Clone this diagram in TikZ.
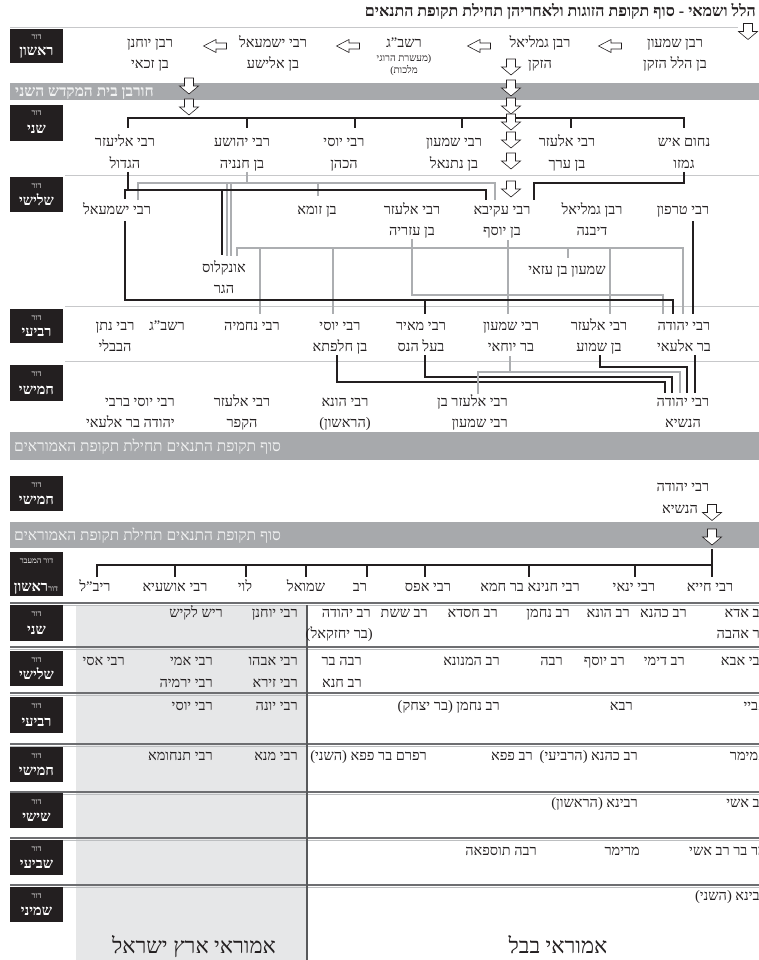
\documentclass[tikz,border=0pt]{standalone}
\usepackage{fontspec}
\setmainfont{Liberation Serif}
\newfontfamily\hebfont[Script=Hebrew]{Liberation Serif}
\TeXXeTstate=1
\definecolor{ink}{HTML}{231F20}
\definecolor{barg}{HTML}{A7A9AC}
\definecolor{linkg}{HTML}{ACAEB1}
\definecolor{sepg}{HTML}{C7C8CA}
\definecolor{fillg}{HTML}{E6E7E8}
\definecolor{dbl}{HTML}{6D6E71}
\definecolor{dbl2}{HTML}{BCBEC0}
\definecolor{vline}{HTML}{58595B}
\definecolor{bartext}{HTML}{F1F2F2}
\tikzset{
  nm/.style={anchor=base, inner sep=0pt, text=ink, font=\hebfont\fontsize{14.5}{17}\selectfont},
  nmr/.style={nm, anchor=base east},
  sm/.style={anchor=base, inner sep=0pt, text=ink, font=\hebfont\fontsize{10}{12}\selectfont},
  big/.style={anchor=base, inner sep=0pt, text=ink, font=\hebfont\fontsize{22}{26}\selectfont},
  ttl/.style={anchor=base east, inner sep=0pt, text=ink, font=\hebfont\bfseries\fontsize{16}{18}\selectfont},
  bartxt/.style={anchor=base west, inner sep=0pt, text=bartext, font=\hebfont\fontsize{15.5}{17}\selectfont},
  boxsm/.style={anchor=base, inner sep=0pt, text=white, font=\hebfont\fontsize{8}{9}\selectfont},
  boxbig/.style={anchor=base, inner sep=0pt, text=white, font=\hebfont\bfseries\fontsize{14.5}{16}\selectfont},
  bl/.style={draw=ink, line width=1.1pt},
  gl/.style={draw=linkg, line width=1.1pt},
  sepline/.style={draw=sepg, line width=0.7pt},
  arr/.style={draw=ink, fill=white, line width=0.6pt, line join=miter},
  darr/.pic={\draw[arr] (-4.5,-8) -- (4.5,-8) -- (4.5,0) -- (9.5,0) -- (0,8) -- (-9.5,0) -- (-4.5,0) -- cycle;},
  larr/.pic={\draw[arr] (-11.5,0) -- (1,-6.5) -- (1,-3) -- (11.5,-3) -- (11.5,3) -- (1,3) -- (1,6.5) -- cycle;},
}
\newcommand\nmtwo[5]{\node[nm] (#1) at (#2,#3) {#4};\node[nm] (#1b) at (#2,#3+21) {#5};}
\newcommand\cell[4]{\node[nmr] (#1) at (#2,#3) {#4};}
\newcommand\genbox[4]{\fill[ink] (10,#2) rectangle (63,#3);
  \node[boxsm] (#1s) at (36.5,#2+11) {דור};
  \node[boxbig] (#1) at (36.5,#3-7) {#4};}
\newcommand\dblline[1]{\draw[dbl, line width=1.4pt] (10,#1) -- (759,#1);
  \draw[dbl2, line width=0.8pt] (10,#1+2.8) -- (759,#1+2.8);}
\begin{document}
\begin{tikzpicture}[x=1pt,y=-1pt]
\useasboundingbox (0,0) rectangle (759,960);
\clip (0,0) rectangle (759,960);
\fill[white] (0,0) rectangle (759,960);

% ---------- bars and separators ----------
\fill[barg] (10,83) rectangle (759,100);
\fill[barg] (10,432) rectangle (759,460);
\fill[barg] (10,522) rectangle (759,548);
\draw[sepline] (10,27) -- (738,27);
\draw[sepline] (65,175) -- (759,175);
\draw[sepline] (65,306) -- (759,306);
\draw[sepline] (65,361) -- (759,361);

% ---------- lower table ----------
\fill[fillg] (76,605) rectangle (307,960);
\dblline{603}
\dblline{647}
\dblline{693}
\dblline{744}
\dblline{792}
\dblline{838}
\dblline{885}
\draw[vline, line width=1.3pt] (307,605) -- (307,960);

% ---------- connectors, generation 1-2 ----------
\draw[bl] (128,128) -- (128,118) -- (684,118) -- (684,128);
\foreach \x in {247,355,462,571} \draw[bl] (\x,118) -- (\x,128);

% ---------- connectors, generation 2-3-4 ----------
\draw[gl] (247,172) -- (247,183);
\draw[gl] (138,200) -- (138,183) -- (495,183) -- (495,200);
\draw[gl] (318,183) -- (318,196);
\draw[gl] (227,183) -- (227,256);
\draw[gl] (231,183) -- (231,256);
\draw[bl] (128,172) -- (128,190);
\draw[bl] (125,199) -- (125,190) -- (486,190) -- (486,200);
\draw[bl] (222,190) -- (222,255);
\draw[bl] (684,172) -- (684,183) -- (534,183) -- (534,200);
\draw[gl] (412,239) -- (412,295) -- (663,295) -- (663,314);
\draw[gl] (508,240) -- (508,314);
\draw[gl] (237,256) -- (237,248) -- (683,248) -- (683,314);
\foreach \x in {260,333,610} \draw[gl] (\x,248) -- (\x,314);
\draw[gl] (568,248) -- (568,258);
\draw[bl] (125,221) -- (125,300) -- (673,300) -- (673,314);
\draw[bl] (425,300) -- (425,314);
\draw[bl] (693,221) -- (693,314);

% ---------- connectors, generation 4-5 ----------
\draw[bl] (337,355) -- (337,382) -- (665,382) -- (665,393);
\draw[bl] (425,355) -- (425,377) -- (672,377) -- (672,393);
\draw[gl] (510,356) -- (510,372);
\draw[gl] (478,394) -- (478,372) -- (680,372) -- (680,393);
\draw[bl] (600,355) -- (600,367) -- (687,367) -- (687,393);
\draw[bl] (695,355) -- (695,393);

% ---------- amoraim bracket ----------
\draw[ink, line width=1.4pt] (97,577) -- (97,565) -- (712,565) -- (712,577);
\foreach \x in {175,246,306,367,425,529,635} \draw[ink, line width=1.4pt] (\x,565) -- (\x,577);
\draw[ink, line width=1.4pt] (712,549) -- (712,565);

% ---------- hollow arrows ----------
\pic (t0) at (748,31.5) {darr};
\pic (l1) at (610,46) {larr};
\pic (l2) at (479,46) {larr};
\pic (l3) at (348,46) {larr};
\pic (l4) at (215,46) {larr};
\foreach \y [count=\i] in {67,88,106,122,140,161,189} \pic (c\i) at (511,\y) {darr};
\pic (y1) at (189,86) {darr};
\pic (y2) at (189,107) {darr};
\pic (n1) at (712,512.5) {darr};
\pic (n2) at (712,537) {darr};

% ---------- title and bar texts ----------
\node[ttl] (title) at (756,17) {\beginR הלל ושמאי - סוף תקופת הזוגות ולאחריהן תחילת תקופת התנאים\endR};
\node[bartxt, font=\hebfont\bfseries\fontsize{15.5}{17}\selectfont] (bar1) at (15,97) {\beginR חורבן בית המקדש השני\endR};
\node[bartxt] (bar2) at (14,451) {\beginR סוף תקופת התנאים תחילת תקופת האמוראים\endR};
\node[bartxt] (bar3) at (14,540) {\beginR סוף תקופת התנאים תחילת תקופת האמוראים\endR};

% ---------- generation boxes ----------
\genbox{g1}{29}{63}{ראשון}
\genbox{g2}{105}{141}{שני}
\genbox{g3}{177}{212}{שלישי}
\genbox{g4}{309}{343}{רביעי}
\genbox{g5}{365}{401}{חמישי}
\genbox{h5}{476}{511}{חמישי}
\fill[ink] (10,552) rectangle (63,596);
\node[boxsm] (m0) at (36.5,563) {\beginR דור המעבר\endR};
\node[boxbig] (m1) at (31,591) {ראשון};
\node[boxsm] (m1s) at (53,591) {דור};
\genbox{a2}{605}{641}{שני}
\genbox{a3}{651}{686}{שלישי}
\genbox{a4}{697}{733}{רביעי}
\genbox{a5}{747}{782}{חמישי}
\genbox{a6}{793}{828}{שישי}
\genbox{a7}{840}{875}{שביעי}
\genbox{a8}{887}{922}{שמיני}

% ---------- generation 1 ----------
\nmtwo{shimon}{675}{48}{\beginR רבן שמעון\endR}{\beginR בן הלל הזקן\endR}
\nmtwo{gamliel}{540}{48}{\beginR רבן גמליאל\endR}{הזקן}
\node[nm] (rashbag) at (404,48) {רשב”ג};
\node[sm] (rashbagb) at (404,62) {\beginR (מעשרת הרוגי\endR};
\node[sm] (rashbagc) at (404,74) {מלכות)};
\nmtwo{ishmaela}{273}{48}{\beginR רבי ישמעאל\endR}{\beginR בן אלישע\endR}
\nmtwo{yochanan}{150}{48}{\beginR רבן יוחנן\endR}{\beginR בן זכאי\endR}

% ---------- generation 2 ----------
\nmtwo{eliezer}{125}{147}{\beginR רבי אליעזר\endR}{הגדול}
\nmtwo{yehoshua}{242}{147}{\beginR רבי יהושע\endR}{\beginR בן חנניה\endR}
\nmtwo{yosek}{344}{147}{\beginR רבי יוסי\endR}{הכהן}
\nmtwo{shimonn}{454}{147}{\beginR רבי שמעון\endR}{\beginR בן נתנאל\endR}
\nmtwo{elazara}{567}{147}{\beginR רבי אלעזר\endR}{\beginR בן ערך\endR}
\nmtwo{nachum}{684}{147}{\beginR נחום איש\endR}{גמזו}

% ---------- generation 3 ----------
\node[nm] (ishmael) at (117,214) {\beginR רבי ישמעאל\endR};
\node[nm] (zoma) at (317,214) {\beginR בן זומא\endR};
\nmtwo{azarya}{412}{214}{\beginR רבי אלעזר\endR}{\beginR בן עזריה\endR}
\nmtwo{akiva}{502}{214}{\beginR רבי עקיבא\endR}{\beginR בן יוסף\endR}
\nmtwo{gamlielb}{592}{214}{\beginR רבן גמליאל\endR}{דיבנה}
\node[nm] (tarfon) at (683,214) {\beginR רבי טרפון\endR};
\nmtwo{onkelos}{224}{272}{אונקלוס}{הגר}
\node[nm] (azai) at (567,274) {\beginR שמעון בן עזאי\endR};

% ---------- generation 4 ----------
\nmtwo{natan}{115}{330}{\beginR רבי נתן\endR}{הבבלי}
\node[nm] (rashbagd) at (167,330) {רשב”ג};
\node[nm] (nechemya) at (252,330) {\beginR רבי נחמיה\endR};
\nmtwo{yosih}{340}{330}{\beginR רבי יוסי\endR}{\beginR בן חלפתא\endR}
\nmtwo{meir}{421}{330}{\beginR רבי מאיר\endR}{\beginR בעל הנס\endR}
\nmtwo{rashbi}{511}{330}{\beginR רבי שמעון\endR}{\beginR בר יוחאי\endR}
\nmtwo{elazarsh}{599}{330}{\beginR רבי אלעזר\endR}{\beginR בן שמוע\endR}
\nmtwo{yehuda}{684}{330}{\beginR רבי יהודה\endR}{\beginR בר אלעאי\endR}

% ---------- generation 5 ----------
\cell{yosib}{175}{406}{\beginR רבי יוסי ברבי\endR}
\cell{yosibb}{175}{427}{\beginR יהודה בר אלעאי\endR}
\nmtwo{kapar}{242}{406}{\beginR רבי אלעזר\endR}{הקפר}
\nmtwo{huna}{345}{406}{\beginR רבי הונא\endR}{(הראשון)}
\cell{elazarbs}{508}{406}{\beginR רבי אלעזר בן\endR}
\cell{elazarbsb}{508}{427}{\beginR רבי שמעון\endR}
\nmtwo{nasi}{683}{406}{\beginR רבי יהודה\endR}{הנשיא}

% ---------- second part ----------
\node[nm] (nasi2) at (683,491) {\beginR רבי יהודה\endR};
\node[nm] (nasi2b) at (680,513) {הנשיא};

% ---------- amoraim, first generation ----------
\node[nm] (ribal) at (95,591) {ריב”ל};
\node[nm] (oshaya) at (175,591) {\beginR רבי אושעיא\endR};
\node[nm] (levi) at (245,591) {לוי};
\node[nm] (shmuel) at (306,591) {שמואל};
\node[nm] (rav) at (360,591) {רב};
\node[nm] (afes) at (428,591) {\beginR רבי אפס\endR};
\node[nm] (chanina) at (530,591) {\beginR רבי חנינא בר חמא\endR};
\node[nm] (yannai) at (634,591) {\beginR רבי ינאי\endR};
\node[nm] (chiya) at (710,591) {\beginR רבי חייא\endR};

% ---------- table rows ----------
\cell{yochanan2}{298}{617}{\beginR רבי יוחנן\endR}
\cell{reishlakish}{223}{617}{\beginR ריש לקיש\endR}
\cell{ravyehuda}{371}{617}{\beginR רב יהודה\endR}
\cell{ravyehudab}{373}{638}{\beginR (בר יחזקאל)\endR}
\cell{sheshet}{428}{617}{\beginR רב ששת\endR}
\cell{chisda}{498}{617}{\beginR רב חסדא\endR}
\cell{nachman}{570}{617}{\beginR רב נחמן\endR}
\cell{huna2}{630}{617}{\beginR רב הונא\endR}
\cell{kahana}{687}{617}{\beginR רב כהנא\endR}
\cell{ada}{767}{617}{\beginR רב אדא\endR}
\cell{adab}{767}{638}{\beginR בר אהבה\endR}

\cell{abahu}{298}{665}{\beginR רבי אבהו\endR}
\cell{zeira}{298}{687}{\beginR רבי זירא\endR}
\cell{ami}{213}{665}{\beginR רבי אמי\endR}
\cell{yirmiya}{213}{687}{\beginR רבי ירמיה\endR}
\cell{asi}{125}{665}{\beginR רבי אסי\endR}
\cell{rabbabar}{362}{665}{\beginR רבה בר\endR}
\cell{rabbabarb}{362}{687}{\beginR רב חנא\endR}
\cell{hamnuna}{500}{665}{\beginR רב המנונא\endR}
\cell{rabba}{563}{665}{רבה}
\cell{yosef}{625}{665}{\beginR רב יוסף\endR}
\cell{dimi}{685}{665}{\beginR רב דימי\endR}
\cell{abba}{767}{665}{\beginR רבי אבא\endR}

\cell{yona}{298}{710}{\beginR רבי יונה\endR}
\cell{yosi4}{213}{710}{\beginR רבי יוסי\endR}
\cell{nachmanyz}{500}{710}{\beginR רב נחמן (בר יצחק)\endR}
\cell{rava}{633}{710}{רבא}
\cell{abaye}{767}{710}{אביי}

\cell{mana}{298}{760}{\beginR רבי מנא\endR}
\cell{tanchuma}{213}{760}{\beginR רבי תנחומא\endR}
\cell{rafram}{427}{760}{\beginR רפרם בר פפא (השני)\endR}
\cell{papa}{533}{760}{\beginR רב פפא\endR}
\cell{kahana4}{638}{760}{\beginR רב כהנא (הרביעי)\endR}
\cell{ameimar}{767}{760}{אמימר}

\cell{ravina1}{638}{807}{\beginR רבינא (הראשון)\endR}
\cell{ashi}{767}{807}{\beginR רב אשי\endR}

\cell{tosfaa}{537}{855}{\beginR רבה תוספאה\endR}
\cell{mareimar}{640}{855}{מרימר}
\cell{marbar}{767}{855}{\beginR מר בר רב אשי\endR}

\cell{ravina2}{767}{900}{\beginR רבינא (השני)\endR}

\node[big] (eretz) at (194,953) {\beginR אמוראי ארץ ישראל\endR};
\node[big] (bavel) at (558,953) {\beginR אמוראי בבל\endR};
\end{tikzpicture}
\end{document}
